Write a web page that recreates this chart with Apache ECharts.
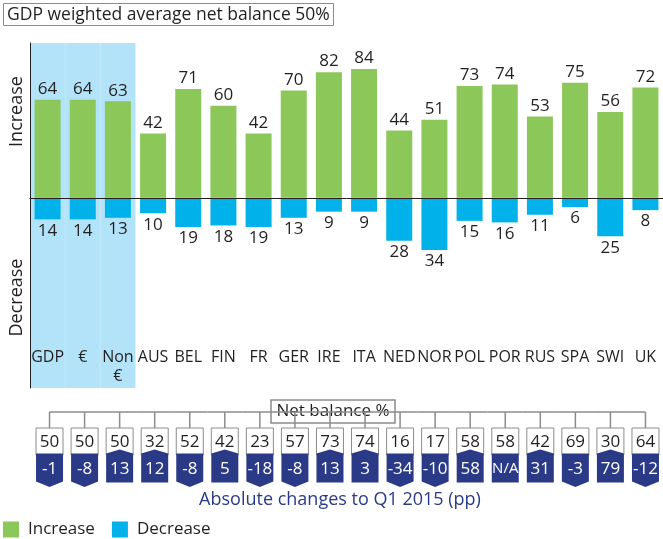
<!DOCTYPE html>
<html>
<head>
<meta charset="utf-8">
<script src="https://cdn.jsdelivr.net/npm/echarts@6/dist/echarts.min.js"></script>
<style>
  html, body { margin: 0; padding: 0; background: #fff; }
  #chart { width: 663px; height: 539px; }
</style>
</head>
<body>
<div id="chart"></div>
<script>
const categories = ['GDP', '€', 'Non\n€', 'AUS', 'BEL', 'FIN', 'FR', 'GER', 'IRE', 'ITA', 'NED', 'NOR', 'POL', 'POR', 'RUS', 'SPA', 'SWI', 'UK']
const increase = [64, 64, 63, 42, 71, 60, 42, 70, 82, 84, 44, 51, 73, 74, 53, 75, 56, 72]
const decrease = [14, 14, 13, 10, 19, 18, 19, 13, 9, 9, 28, 34, 15, 16, 11, 6, 25, 8]
const netBalance = [50, 50, 50, 32, 52, 42, 23, 57, 73, 74, 16, 17, 58, 58, 42, 69, 30, 64]
const changes = [-1, -8, 13, 12, -8, 5, -18, -8, 13, 3, -34, -10, 58, null, 31, -3, 79, -12]
const highlighted = ['GDP', '€', 'Non\n€']

const yMin = -124
const yMax = 101
const font = '"Open Sans", "Noto Sans", sans-serif'
const textColor = '#231f20'
const green = '#8cc75a'
const blue = '#00b1ea'
const navy = '#2b3a87'
const grey = '#8c8c8c'
const shade = '#b3e3f8'

const chart = echarts.init(document.getElementById('chart'))

const hlUp = categories.map(c => (highlighted.includes(c) ? yMax : null))
const hlDown = categories.map(c => (highlighted.includes(c) ? yMin : null))
const tableData = categories.map((c, i) => [i, netBalance[i], changes[i]])

function renderBox(params, api) {
  const i = api.value(0)
  const x = api.coord([i, 0])[0]
  const top = api.coord([i, 60])[1]
  const band = api.size([1, 0])[0]
  const hw = 13.5
  const net = netBalance[i]
  const chg = changes[i]
  const yNavy = top + 25.5
  const yBottom = top + 54.5
  let pts
  if (chg === null) {
    pts = [[x - hw, yNavy], [x + hw, yNavy], [x + hw, yBottom], [x - hw, yBottom]]
  } else if (chg > 0) {
    pts = [[x - hw, yNavy], [x, yNavy - 4], [x + hw, yNavy], [x + hw, yBottom], [x - hw, yBottom]]
  } else {
    pts = [[x - hw, yNavy], [x + hw, yNavy], [x + hw, yBottom - 1], [x, yBottom + 4.5], [x - hw, yBottom - 1]]
  }
  const last = categories.length - 1
  const lineY = top - 16
  return {
    type: 'group',
    children: [
      {
        type: 'line',
        shape: { x1: i === 0 ? x : x - band / 2, y1: lineY, x2: i === last ? x : x + band / 2, y2: lineY },
        style: { stroke: grey, lineWidth: 1.5 }
      },
      {
        type: 'line',
        shape: { x1: x, y1: lineY, x2: x, y2: top },
        style: { stroke: grey, lineWidth: 1.5 }
      },
      {
        type: 'rect',
        shape: { x: x - hw, y: top, width: hw * 2, height: 27 },
        style: { fill: '#fff', stroke: grey, lineWidth: 1 }
      },
      {
        type: 'polygon',
        shape: { points: pts },
        style: { fill: navy }
      },
      {
        type: 'text',
        style: {
          text: String(net), x: x, y: top + 14, align: 'center', verticalAlign: 'middle',
          fontSize: 17, fontFamily: font, fill: textColor
        }
      },
      {
        type: 'text',
        style: {
          text: chg === null ? 'N/A' : String(chg), x: x, y: top + 41, align: 'center', verticalAlign: 'middle',
          fontSize: chg === null ? 15 : 17, fontFamily: font, fill: '#fff'
        }
      }
    ]
  }
}

chart.setOption({
  animation: false,
  textStyle: { fontFamily: font, color: textColor },
  title: {
    text: 'GDP weighted average net balance 50%',
    left: 3,
    top: 3,
    padding: [2, 4, 1, 4],
    borderWidth: 1,
    borderColor: grey,
    textStyle: { fontSize: 17.5, lineHeight: 20, fontWeight: 'normal', color: textColor, fontFamily: font }
  },
  legend: {
    left: 3,
    top: 521,
    padding: 0,
    icon: 'rect',
    itemWidth: 16,
    itemHeight: 16,
    itemGap: 17,
    data: ['Increase', 'Decrease'],
    textStyle: { fontSize: 17, color: textColor, fontFamily: font, padding: [0, 0, 0, 4] }
  },
  grid: [
    { left: 30, right: -3, top: 43, bottom: 151 },
    { left: 32, right: -3, top: 428, height: 60 }
  ],
  xAxis: [
    {
      type: 'category',
      data: categories,
      z: 5,
      axisLine: { show: true, onZero: true, lineStyle: { color: textColor, width: 1 } },
      axisTick: { show: false },
      axisLabel: { show: false }
    },
    {
      type: 'category',
      data: categories,
      position: 'bottom',
      z: 5,
      axisLine: { show: false, onZero: false },
      axisTick: { show: false },
      axisLabel: {
        interval: 0,
        inside: true,
        margin: 40,
        verticalAlign: 'top',
        fontSize: 16,
        lineHeight: 19,
        color: textColor,
        fontFamily: font
      }
    },
    {
      type: 'category',
      gridIndex: 1,
      data: categories,
      show: false
    }
  ],
  yAxis: [
    {
      type: 'value',
      min: yMin,
      max: yMax,
      z: 5,
      axisLine: { show: true, lineStyle: { color: textColor, width: 1 } },
      axisTick: { show: false },
      axisLabel: { show: false },
      splitLine: { show: false }
    },
    {
      type: 'value',
      gridIndex: 1,
      min: 0,
      max: 60,
      show: false
    }
  ],
  series: [
    {
      name: 'highlightUp',
      type: 'bar',
      xAxisIndex: 1,
      data: hlUp,
      barWidth: '100%',
      barGap: '-100%',
      silent: true,
      itemStyle: { color: shade, borderColor: shade, borderWidth: 1 },
      z: 1
    },
    {
      name: 'highlightDown',
      type: 'bar',
      xAxisIndex: 1,
      data: hlDown,
      barWidth: '100%',
      barGap: '-100%',
      silent: true,
      itemStyle: { color: shade, borderColor: shade, borderWidth: 1 },
      z: 1
    },
    {
      name: 'Increase',
      type: 'bar',
      data: increase,
      barWidth: 26,
      barGap: '-100%',
      itemStyle: { color: green },
      label: {
        show: true,
        position: 'top',
        distance: 2,
        fontSize: 17,
        color: textColor,
        fontFamily: font
      },
      z: 3
    },
    {
      name: 'Decrease',
      type: 'bar',
      data: decrease.map(v => -v),
      barWidth: 26,
      barGap: '-100%',
      itemStyle: { color: blue },
      label: {
        show: true,
        position: 'bottom',
        distance: 3,
        fontSize: 17,
        color: textColor,
        fontFamily: font,
        formatter: p => Math.abs(p.value)
      },
      z: 3
    },
    {
      name: 'table',
      type: 'custom',
      xAxisIndex: 2,
      yAxisIndex: 1,
      data: tableData,
      renderItem: renderBox,
      silent: true,
      z: 2
    }
  ],
  graphic: [
    {
      type: 'text',
      x: 17,
      y: 111.5,
      rotation: Math.PI / 2,
      style: { text: 'Increase', align: 'center', verticalAlign: 'middle', fontSize: 18, fontFamily: font, fill: textColor }
    },
    {
      type: 'text',
      x: 17,
      y: 297.5,
      rotation: Math.PI / 2,
      style: { text: 'Decrease', align: 'center', verticalAlign: 'middle', fontSize: 18, fontFamily: font, fill: textColor }
    },
    {
      type: 'group',
      z: 100,
      children: [
        {
          type: 'rect',
          shape: { x: 271, y: 400, width: 124, height: 23 },
          style: { fill: '#fff', stroke: grey, lineWidth: 1.5 }
        },
        {
          type: 'text',
          x: 333,
          y: 411.5,
          style: { text: 'Net balance %', align: 'center', verticalAlign: 'middle', fontSize: 17, fontFamily: font, fill: textColor }
        }
      ]
    },
    {
      type: 'text',
      x: 340,
      y: 500,
      style: { text: 'Absolute changes to Q1 2015 (pp)', align: 'center', verticalAlign: 'middle', fontSize: 18, fontFamily: font, fill: navy }
    }
  ]
})
</script>
</body>
</html>
